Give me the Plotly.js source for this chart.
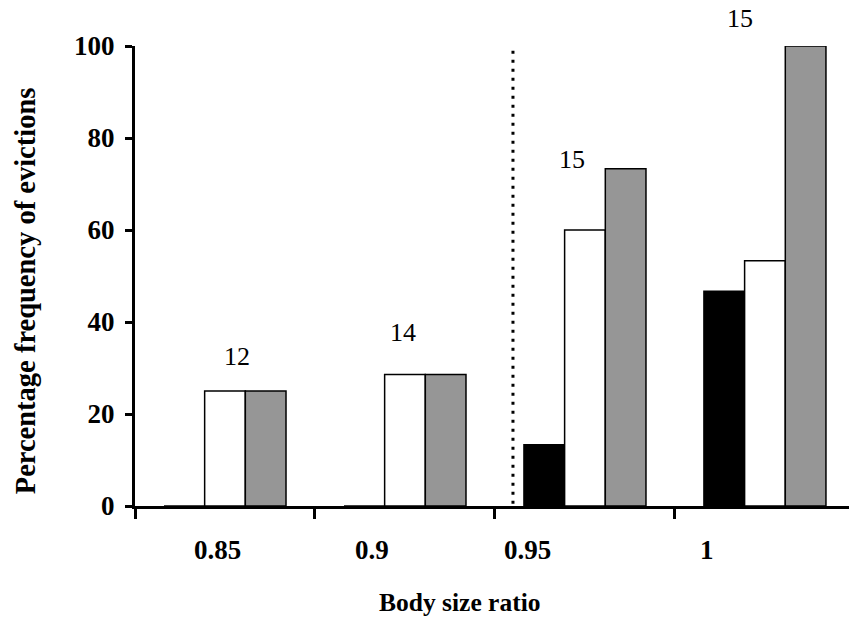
<!DOCTYPE html>
<html>
<head>
<meta charset="utf-8">
<script src="https://cdn.plot.ly/plotly-3.0.1.min.js"></script>
<style>html,body{margin:0;padding:0;background:#fff;}#chart{width:849px;height:622px;}</style>
</head>
<body>
<div id="chart"></div>
<script>
const categories = ["0.85", "0.9", "0.95", "1"];
const blackValues = [0, 0, 13.3, 46.7];
const whiteValues = [25, 28.6, 60, 53.3];
const grayValues = [25, 28.6, 73.3, 100];
const sampleSizes = ["12", "14", "15", "15"];
const sampleLabelX = [0.067, 0.989, 1.928, 2.861];
const sampleLabelY = [32.5, 37.7, 75.4, 105.9];
const tickLabelX = [-0.044, 0.817, 1.683, 2.678];
const yTicks = [0, 20, 40, 60, 80, 100];
const yMax = 100;
const dividerX = 1.6;
const xTitle = "Body size ratio";
const yTitle = "Percentage frequency of evictions";

const font = "Liberation Serif, Times New Roman, serif";
const barLine = {color: "#000", width: 1.5};

const traces = [
  {type: "bar", x: categories, y: blackValues, marker: {color: "#000000", line: barLine}, name: "a"},
  {type: "bar", x: categories, y: whiteValues, marker: {color: "#ffffff", line: barLine}, name: "b"},
  {type: "bar", x: categories, y: grayValues, marker: {color: "#969696", line: barLine}, name: "c"}
];

const annotations = [];
sampleSizes.forEach((t, i) => {
  annotations.push({x: sampleLabelX[i], y: sampleLabelY[i] / yMax, xref: "x", yref: "paper", text: t,
    xanchor: "center", yanchor: "middle",
    showarrow: false, font: {family: font, size: 26, color: "#000"}});
});
categories.forEach((c, i) => {
  annotations.push({x: tickLabelX[i], y: 0, xref: "x", yref: "y", yshift: -44, text: "<b>" + c + "</b>",
    xanchor: "center", yanchor: "middle",
    showarrow: false, font: {family: font, size: 27, color: "#000"}});
});
annotations.push({x: 0.455, y: -0.209, xref: "paper", yref: "paper", text: "<b>" + xTitle + "</b>",
  xanchor: "center", yanchor: "middle", showarrow: false, font: {family: font, size: 25.5, color: "#000"}});
annotations.push({x: -0.154, y: 0.467, xref: "paper", yref: "paper", text: "<b>" + yTitle + "</b>", textangle: -90,
  xanchor: "center", yanchor: "middle", showarrow: false, font: {family: font, size: 28.5, color: "#000"}});

const layout = {
  width: 849, height: 622,
  margin: {l: 135, r: 0, t: 46, b: 116, pad: 0},
  paper_bgcolor: "#fff", plot_bgcolor: "#fff",
  showlegend: false,
  barmode: "group", bargap: 0.322, bargroupgap: 0,
  font: {family: font, color: "#000"},
  xaxis: {
    type: "category", range: [-0.5, 3.467], showticklabels: false,
    ticks: "outside", tickson: "boundaries", ticklen: 10, tickwidth: 3, tickcolor: "#000",
    showline: true, linewidth: 3, linecolor: "#000", showgrid: false, zeroline: false
  },
  yaxis: {
    range: [0, yMax], tickvals: yTicks, ticktext: yTicks.map(v => "<b>" + v + "</b>"),
    ticks: "outside", ticklen: 7, tickwidth: 3, tickcolor: "#000", ticklabelstandoff: 5,
    tickfont: {family: font, size: 27, color: "#000"},
    showline: true, linewidth: 3, linecolor: "#000", showgrid: false, zeroline: false
  },
  shapes: [{type: "line", xref: "x", yref: "y", x0: dividerX, x1: dividerX, y0: 0.5, y1: 99.5,
    line: {color: "#000", width: 3, dash: "3px,6px"}}],
  annotations: annotations
};

Plotly.newPlot("chart", traces, layout, {displayModeBar: false, staticPlot: true});
</script>
</body>
</html>
